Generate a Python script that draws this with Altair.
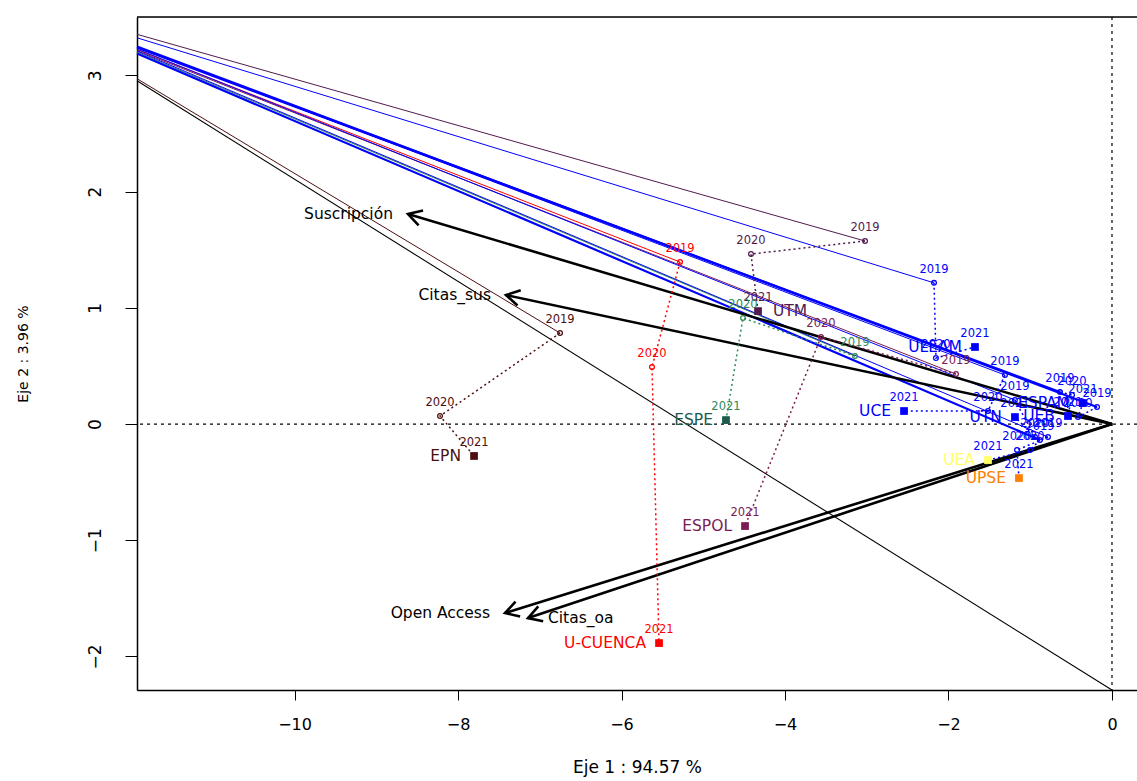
import math
import altair as alt
import pandas as pd

# ---------------- data ----------------
institutions = ["UTM", "U-CUENCA", "ESPE", "ESPOL", "EPN", "ULEAM",
                "UCE", "UTN", "ESPAM", "UEB", "UEA", "UPSE"]
path_colors = ["#521A4F", "#FF0000", "#2E8B57", "#7B1C52", "#4D0F0F", "#0000FF",
               "#0000FF", "#0000FF", "#0000FF", "#0000FF", "#0000FF", "#0000FF"]
name_colors = ["#521A4F", "#FF0000", "#1D5C4C", "#7B1C52", "#4D0F0F", "#0000FF",
               "#0000FF", "#0000FF", "#0000FF", "#0000FF", "#FFFF66", "#FF8000"]
years = ["2019", "2020", "2021"]
x_2019 = [-3.021, -5.284, -3.144, -1.908, -6.752, -2.177, -1.309, -1.187, -0.183, -0.636, -0.881, -0.783]
y_2019 = [1.575, 1.394, 0.585, 0.430, 0.783, 1.215, 0.422, 0.207, 0.146, 0.275, -0.138, -0.112]
x_2020 = [-4.416, -5.627, -4.514, -3.560, -8.220, -2.153, -1.517, -0.942, -0.416, -0.489, -1.003, -1.162]
y_2020 = [1.463, 0.491, 0.912, 0.749, 0.069, 0.568, 0.112, -0.112, 0.060, 0.250, -0.224, -0.224]
x_2021 = [-4.330, -5.541, -4.722, -4.489, -7.804, -1.676, -2.544, -1.187, -0.355, -0.538, -1.517, -1.138]
y_2021 = [0.972, -1.885, 0.034, -0.878, -0.275, 0.663, 0.112, 0.060, 0.181, 0.069, -0.310, -0.465]

# lines entering from the left border and ending at each 2019 position
trend_start_y = [3.354, 3.223, 3.201, 3.214, 2.972, 3.324, 3.244, 3.227, 3.249, 3.240, 3.189, 3.210]

# extra black reference line
ref_line_x = [-11.927, 0.0]
ref_line_y = [2.954, -2.289]

# variable arrows
var_names = ["Suscripción", "Citas_sus", "Open Access", "Citas_oa"]
var_x = [-8.612, -7.413, -7.425, -7.144]
var_y = [1.807, 1.110, -1.627, -1.670]

x_ticks = [-10, -8, -6, -4, -2, 0]
y_ticks = [-2, -1, 0, 1, 2, 3]

# ---------------- layout ----------------
X_DOMAIN = [-11.927, 0.306]
Y_DOMAIN = [-2.289, 3.503]
W, H = 1000, 673
FONT = "DejaVu Sans"
sx = W / (X_DOMAIN[1] - X_DOMAIN[0])
sy = H / (Y_DOMAIN[1] - Y_DOMAIN[0])
THICK = {"ESPAM", "UEB", "UEA"}

xs = alt.Scale(domain=X_DOMAIN, nice=False, zero=False)
ys = alt.Scale(domain=Y_DOMAIN, nice=False, zero=False)
x_axis = alt.Axis(values=x_ticks, title="Eje 1 :  94.57 %", grid=False, tickSize=10,
                  labelPadding=16, titlePadding=27, labelFontSize=16, titleFontSize=17,
                  titleFontWeight="normal", domainColor="black", tickColor="black",
                  labelColor="black", titleColor="black", domainWidth=1.5, labelFont=FONT,
                  titleFont=FONT)
y_axis = alt.Axis(values=y_ticks, title="Eje 2 :  3.96 %", grid=False, tickSize=12,
                  labelAngle=270, labelAlign="center", labelBaseline="bottom",
                  labelPadding=21, titlePadding=56, labelFontSize=17, titleFontSize=14,
                  titleFontWeight="normal", domainColor="black", tickColor="black",
                  labelColor="black", titleColor="black", domainWidth=1.5, labelFont=FONT,
                  titleFont=FONT)


def X(f):
    return alt.X(f, type="quantitative", scale=xs, axis=x_axis)


def Y(f):
    return alt.Y(f, type="quantitative", scale=ys, axis=y_axis)


# ---------------- tables ----------------
rows = []
for i, name in enumerate(institutions):
    for yr, xv, yv in zip(years, (x_2019[i], x_2020[i], x_2021[i]),
                          (y_2019[i], y_2020[i], y_2021[i])):
        rows.append({"inst": name, "year": yr, "x": xv, "y": yv,
                     "pc": path_colors[i], "nc": name_colors[i]})
traj = pd.DataFrame(rows)

trend = pd.DataFrame({
    "inst": institutions,
    "x0": [X_DOMAIN[0]] * len(institutions),
    "y0": trend_start_y,
    "x1": x_2019,
    "y1": y_2019,
    "pc": path_colors,
    "w": [2.2 if n in THICK else 1.0 for n in institutions],
})

ref = pd.DataFrame({"x0": [ref_line_x[0]], "y0": [ref_line_y[0]],
                    "x1": [ref_line_x[1]], "y1": [ref_line_y[1]]})

vars_df = pd.DataFrame({"name": var_names, "vx": var_x, "vy": var_y})
vars_df["zero"] = 0.0
vars_df["ang"] = [(math.degrees(math.atan2(a * sx, b * sy)) + 360) % 360
                  for a, b in zip(var_x, var_y)]

zero_df = pd.DataFrame({"v": [0.0]})
top_df = pd.DataFrame({"v": [Y_DOMAIN[1]]})

# ---------------- layers ----------------
hline = alt.Chart(zero_df).mark_rule(color="black", strokeDash=[3, 4], strokeWidth=1.2).encode(y=Y("v"))
vline = alt.Chart(zero_df).mark_rule(color="black", strokeDash=[3, 4], strokeWidth=1.2).encode(x=X("v"))
top_border = alt.Chart(top_df).mark_rule(color="black", strokeWidth=1.5).encode(y=Y("v"))

trend_lines = alt.Chart(trend).mark_rule().encode(
    x=X("x0"), y=Y("y0"), x2="x1", y2="y1",
    color=alt.Color("pc:N", scale=None),
    strokeWidth=alt.StrokeWidth("w:Q", scale=None),
)
ref_rule = alt.Chart(ref).mark_rule(color="black", strokeWidth=1.1).encode(
    x=X("x0"), y=Y("y0"), x2="x1", y2="y1")

shafts = alt.Chart(vars_df).mark_rule(color="black", strokeWidth=2.6).encode(
    x=X("zero"), y=Y("zero"), x2="vx", y2="vy")
CHEVRON = "M -0.58 1 L 0 0 L 0.58 1"
heads = alt.Chart(vars_df).mark_point(shape=CHEVRON, filled=False, size=720, strokeWidth=2.6,
                                      color="black", opacity=1).encode(
    x=X("vx"), y=Y("vy"), angle=alt.Angle("ang:Q", scale=None))
var_left = alt.Chart(vars_df[vars_df.name != "Citas_oa"]).mark_text(
    align="right", baseline="middle", dx=-15, fontSize=15.5, font=FONT, color="black").encode(
    x=X("vx"), y=Y("vy"), text="name:N")
var_right = alt.Chart(vars_df[vars_df.name == "Citas_oa"]).mark_text(
    align="left", baseline="middle", dx=20, fontSize=15.5, font=FONT, color="black").encode(
    x=X("vx"), y=Y("vy"), text="name:N")

paths = alt.Chart(traj).mark_line(strokeDash=[2, 3], strokeWidth=1.5).encode(
    x=X("x"), y=Y("y"), detail="inst:N", order="year:O",
    color=alt.Color("pc:N", scale=None))
open_pts = alt.Chart(traj[traj.year != "2021"]).mark_point(
    shape="circle", filled=False, size=22, strokeWidth=1.3, opacity=1).encode(
    x=X("x"), y=Y("y"), color=alt.Color("pc:N", scale=None))
end_pts = alt.Chart(traj[traj.year == "2021"]).mark_point(
    shape="square", filled=True, size=60, opacity=1).encode(
    x=X("x"), y=Y("y"), color=alt.Color("nc:N", scale=None))
year_lbl = alt.Chart(traj).mark_text(dy=-13, fontSize=11.5, font=FONT, baseline="middle").encode(
    x=X("x"), y=Y("y"), text="year:N", color=alt.Color("pc:N", scale=None))

ends = traj[traj.year == "2021"]
name_left = alt.Chart(ends[ends.inst != "UTM"]).mark_text(
    align="right", baseline="middle", dx=-13, fontSize=15.5, font=FONT).encode(
    x=X("x"), y=Y("y"), text="inst:N", color=alt.Color("nc:N", scale=None))
name_right = alt.Chart(ends[ends.inst == "UTM"]).mark_text(
    align="left", baseline="middle", dx=15, fontSize=15.5, font=FONT).encode(
    x=X("x"), y=Y("y"), text="inst:N", color=alt.Color("nc:N", scale=None))

chart = alt.layer(
    hline, vline, top_border, trend_lines, ref_rule, shafts, heads,
    paths, open_pts, end_pts, year_lbl, name_left, name_right, var_left, var_right,
).properties(
    width=W, height=H,
    padding={"left": 137, "top": 17, "right": 0, "bottom": 91},
    autosize=alt.AutoSizeParams(type="none"),
).configure_view(stroke=None).configure(font=FONT)

chart.save("out.html", embed_options={"renderer": "svg", "actions": False})
